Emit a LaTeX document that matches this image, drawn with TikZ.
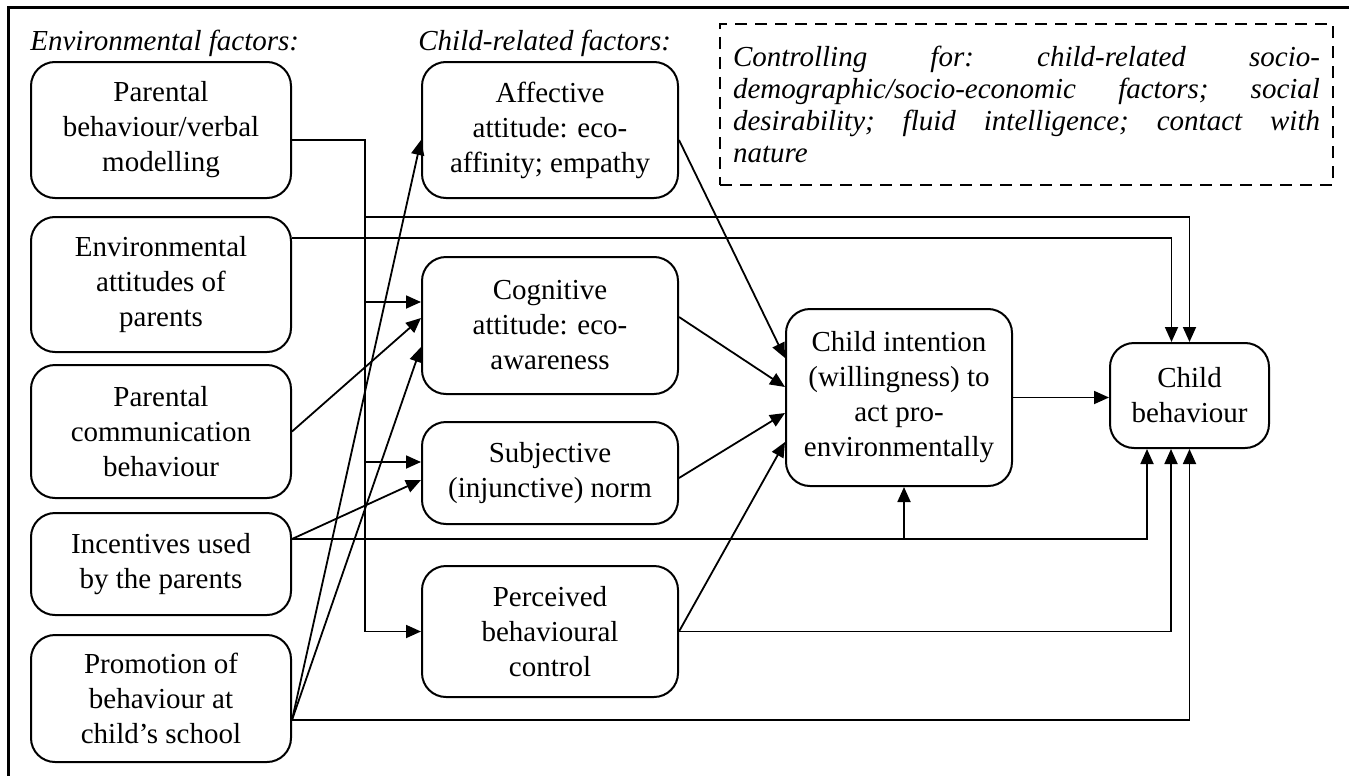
\documentclass[tikz,border=0pt]{standalone}
\usepackage{fontspec}
\setmainfont{Liberation Serif}
\usetikzlibrary{arrows.meta}

\begin{document}
\begin{tikzpicture}[x=0.5pt,y=-0.5pt,
  box/.style={draw,line width=1pt,rounded corners=12pt,align=center,inner sep=2pt,
    font=\fontsize{14.5}{17.5}\selectfont},
  head/.style={anchor=base west,inner sep=0pt,font=\itshape\fontsize{14.5}{17}\selectfont},
  arr/.style={line width=0.9pt,-{Triangle[length=7.5pt,width=6.5pt]}}]

\useasboundingbox (0,0) rectangle (1349,776);
% frame
\draw[line width=1.5pt] (1349,7) -- (8,7) -- (8,776);

\node[head] (envh) at (30,50) {Environmental factors:};
\node[head] (chh) at (418,50) {Child-related factors:};

\node[draw,line width=1pt,dash pattern=on 6pt off 4pt,minimum width=306.5pt,minimum height=80.5pt,
  text width=293.5pt,inner sep=6.5pt,align=left,font=\itshape\fontsize{14.5}{16}\selectfont] (ctrl) at (1026.5,104.5)
  {\makebox[293.5pt][s]{Controlling\hfill for:\hfill child-related\hfill socio-}\\
   \makebox[293.5pt][s]{demographic/socio-economic\hfill factors;\hfill social}\\
   \makebox[293.5pt][s]{desirability;\hfill fluid\hfill intelligence;\hfill contact\hfill with}\\
   nature};

% environmental factors
\node[box,minimum width=130pt,minimum height=68pt] (pbm) at (161,130) {Parental\\behaviour/verbal\\modelling};
\node[box,minimum width=130pt,minimum height=67.5pt] (env) at (161,284.5) {Environmental\\attitudes of\\parents};
\node[box,minimum width=130pt,minimum height=66.5pt] (pcb) at (161,431.5) {Parental\\communication\\behaviour};
\node[box,minimum width=130pt,minimum height=51pt] (inc) at (161,564) {Incentives used\\by the parents};
\node[box,minimum width=130pt,minimum height=63.5pt] (pro) at (161,698.5) {Promotion of\\behaviour at\\child’s school};

% child-related factors
\node[box,minimum width=128pt,minimum height=68pt] (aff) at (550,130) {Affective\\attitude: eco-\\affinity; empathy};
\node[box,minimum width=128pt,minimum height=68.5pt] (cog) at (550,325.5) {Cognitive\\attitude: eco-\\awareness};
\node[box,minimum width=128pt,minimum height=51pt] (sub) at (550,473) {Subjective\\(injunctive) norm};
\node[box,minimum width=128pt,minimum height=65.5pt] (per) at (550,631.5) {Perceived\\behavioural\\control};

\node[box,minimum width=113pt,minimum height=88.5pt] (int) at (899,397.5) {Child intention\\(willingness) to\\act pro-\\environmentally};
\node[box,minimum width=79.5pt,minimum height=52.5pt] (chb) at (1189.5,395.5) {Child\\behaviour};

\coordinate (trk) at (365,217);
\coordinate (cogA) at ([yshift=11.75pt]cog.west);
\coordinate (cogB) at ([yshift=3.75pt]cog.west);
\coordinate (cogC) at ([yshift=-10.75pt]cog.west);
\coordinate (subA) at ([yshift=5.5pt]sub.west);
\coordinate (subB) at ([yshift=-3.5pt]sub.west);
\coordinate (incout) at ([yshift=12.5pt]inc.east);
\coordinate (proout) at ([yshift=-10.75pt]pro.east);

% parental behaviour
\draw[arr] ([yshift=-5pt]pbm.east) -| (trk) |- (per.west);
\draw[arr] (trk) -| (chb.north);
\draw[arr] (trk |- cogA) -- (cogA);
\draw[arr] (trk |- subA) -- (subA);

\draw[arr] ([yshift=23.25pt]env.east) -| ([xshift=-9pt]chb.north);
\draw[arr] (pcb.east) -- (cogB);

\draw[arr] (incout) -- (subB);
\draw[arr] (incout) -| ([xshift=-21.25pt]chb.south);
\draw[arr] ([xshift=2.5pt]int.south |- incout) -- ([xshift=2.5pt]int.south);

\draw[arr] (proout) -- ([yshift=-5pt]aff.west);
\draw[arr] (proout) -- (cogC);
\draw[arr] (proout) -| (chb.south);

% into intention
\draw[arr] ([yshift=-5pt]aff.east) -- ([yshift=19.75pt]int.west);
\draw[arr] ([yshift=4.25pt]cog.east) -- ([yshift=5.25pt]int.west);
\draw[arr] ([yshift=-2.5pt]sub.east) -- ([yshift=-7.75pt]int.west);
\draw[arr] (per.east) -- ([yshift=-22.25pt]int.west);
\draw[arr] (per.east) -| ([xshift=-9.25pt]chb.south);

\draw[arr] (int.east) -- (int.east -| chb.west);

\end{tikzpicture}
\end{document}
